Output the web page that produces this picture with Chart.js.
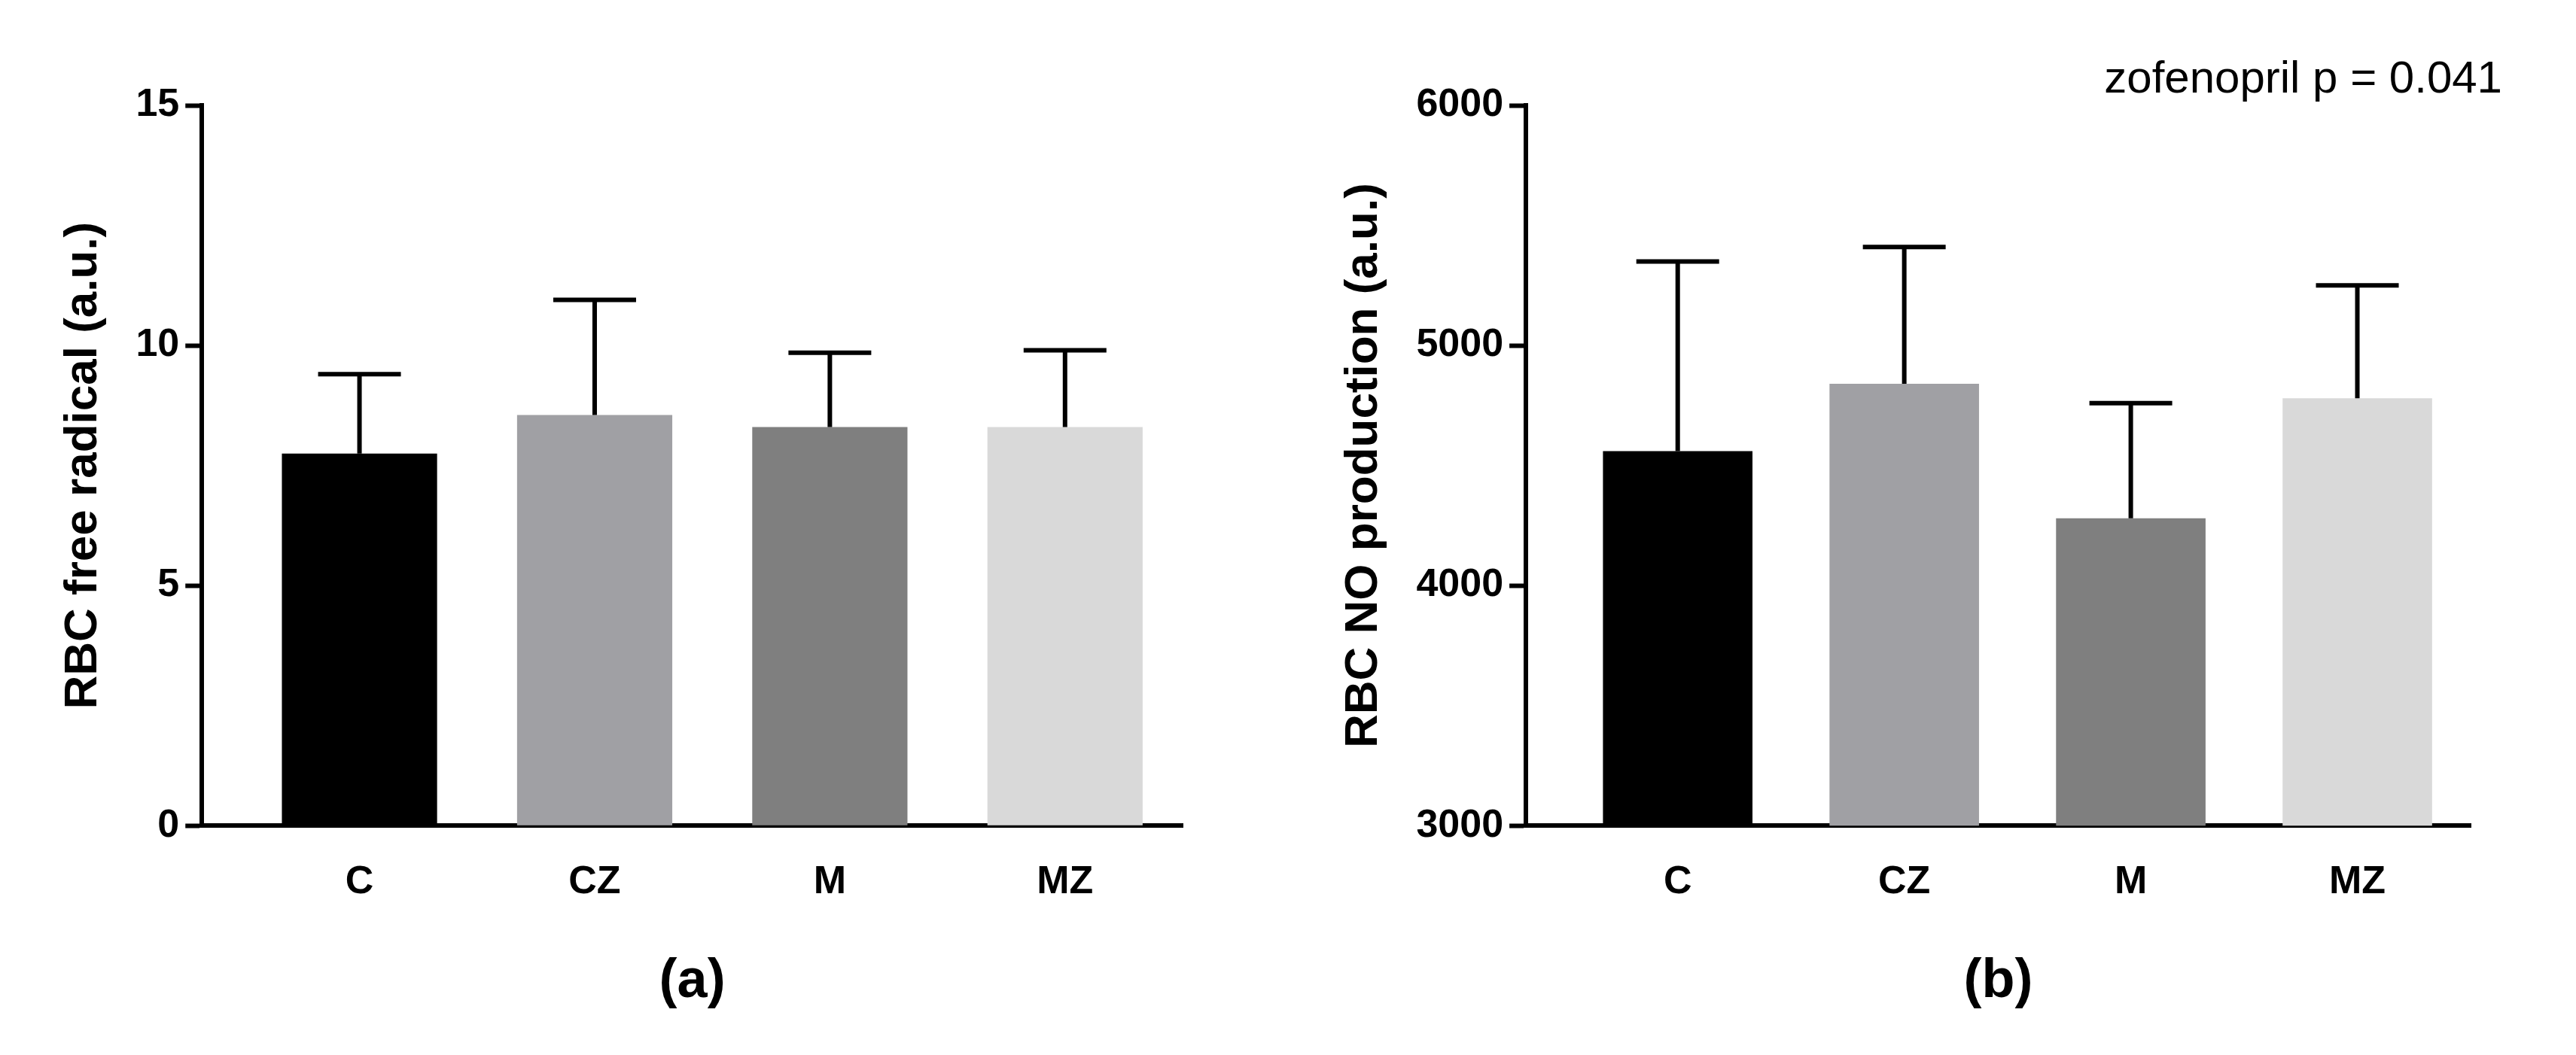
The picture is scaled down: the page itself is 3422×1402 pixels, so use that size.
<!DOCTYPE html>
<html><head><meta charset="utf-8">
<script src="https://cdn.jsdelivr.net/npm/chart.js@4"></script>
<style>
body{margin:0;background:#fff;width:3422px;height:1402px;overflow:hidden;font-family:"Liberation Sans",Arial,sans-serif}
.p{position:absolute;top:0;width:1711px;height:1402px}
#note{position:absolute;right:98px;top:68px;font-size:60px;color:#000}
</style></head><body>
<div class="p" style="left:0"><canvas id="ca"></canvas></div>
<div class="p" style="left:1711px"><canvas id="cb"></canvas></div>
<div id="note">zofenopril p = 0.041</div>
<script>
var groups = ['C', 'CZ', 'M', 'MZ'];
var colors = ['#000000', '#a0a0a4', '#7f7f7f', '#d9d9d9'];
var radicalMean = [7.75, 8.55, 8.3, 8.3];
var radicalTop = [9.4, 10.95, 9.85, 9.9];
var noMean = [4560, 4840, 4280, 4780];
var noTop = [5350, 5410, 4760, 5250];

var errorBars = {
  id: 'errorBars',
  afterDatasetsDraw: function(chart, args, opts) {
    var c = chart.ctx, meta = chart.getDatasetMeta(0), y = chart.scales.y;
    c.save();
    c.strokeStyle = '#000';
    c.lineWidth = 6;
    meta.data.forEach(function(bar, i) {
      var yt = y.getPixelForValue(opts.top[i]);
      c.beginPath();
      c.moveTo(bar.x, bar.y);
      c.lineTo(bar.x, yt);
      c.moveTo(bar.x - 55, yt);
      c.lineTo(bar.x + 55, yt);
      c.stroke();
    });
    c.restore();
  }
};

function makeChart(id, mean, top, ymin, ymax, step, ytitle, xtitle, leftPad) {
  new Chart(document.getElementById(id), {
    type: 'bar',
    data: {
      datasets: [{
        data: mean.map(function(v, i) { return {x: i, y: v}; }),
        backgroundColor: colors,
        barPercentage: 0.66,
        categoryPercentage: 1
      }]
    },
    options: {
      responsive: true, maintainAspectRatio: false, animation: false,
      layout: {padding: {left: leftPad, right: 140, top: 140, bottom: 50}},
      plugins: {legend: {display: false}, tooltip: {enabled: false}, errorBars: {top: top}},
      scales: {
        x: {
          type: 'linear', min: -0.67, max: 3.5, offset: false,
          afterBuildTicks: function(s) { s.ticks = groups.map(function(g, i) { return {value: i}; }); },
          grid: {display: false, drawTicks: false},
          border: {color: '#000', width: 6},
          ticks: {color: '#000', font: {size: 52, weight: 'bold'}, padding: 44,
            callback: function(v) { return groups[v]; }},
          title: {display: true, text: xtitle, color: '#000', font: {size: 72, weight: 'bold'}, padding: {top: 14}}
        },
        y: {
          min: ymin, max: ymax,
          grid: {display: true, drawOnChartArea: false, drawTicks: true, tickLength: 22, tickWidth: 6, color: '#000'},
          border: {color: '#000', width: 6},
          ticks: {stepSize: step, color: '#000', font: {size: 52, weight: 'bold'}, padding: 8,
            callback: function(v) { return String(v); }},
          title: {display: true, text: ytitle, color: '#000', font: {size: 62, weight: 'bold'}, padding: {bottom: 24}}
        }
      }
    },
    plugins: [errorBars]
  });
}

makeChart('ca', radicalMean, radicalTop, 0, 15, 5, 'RBC free radical (a.u.)', '(a)', 70);
makeChart('cb', noMean, noTop, 3000, 6000, 1000, 'RBC NO production (a.u.)', '(b)', 60);
</script>
</body></html>
